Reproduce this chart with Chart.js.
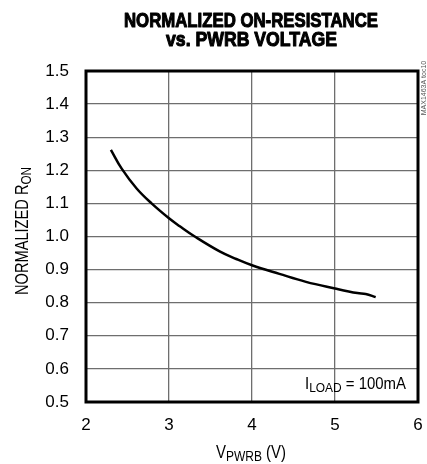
<!DOCTYPE html>
<html><head><meta charset="utf-8">
<script src="https://cdn.jsdelivr.net/npm/chart.js@4/dist/chart.umd.min.js"></script>
<style>html,body{margin:0;padding:0;background:#fff}#w{width:427px;height:464px}</style>
</head><body><div id="w"><canvas id="c"></canvas></div>
<script>
const xValues = [2.30, 2.43, 2.61, 2.79, 3.00, 3.13, 3.31, 3.61, 3.81, 4.00, 4.33, 4.65, 5.00, 5.27, 5.37, 5.49];
const yValues = [1.262, 1.205, 1.145, 1.100, 1.055, 1.031, 1.000, 0.955, 0.932, 0.913, 0.887, 0.863, 0.843, 0.829, 0.826, 0.817];
const xTicks = [2, 3, 4, 5, 6];
const yTicks = [0.5, 0.6, 0.7, 0.8, 0.9, 1.0, 1.1, 1.2, 1.3, 1.4, 1.5];
const titleLines = ["NORMALIZED ON-RESISTANCE", "vs. PWRB VOLTAGE"];
const FN = '"Liberation Sans Narrow", "Liberation Sans", Arial, sans-serif';

function fitText(ctx, txt, cx, baseline, targetW, font) {
  ctx.save();
  ctx.font = font;
  const w = ctx.measureText(txt).width;
  const s = targetW / w;
  ctx.translate(cx, baseline);
  ctx.scale(s, 1);
  ctx.textAlign = 'center';
  ctx.textBaseline = 'alphabetic';
  ctx.lineWidth = 1.1;
  ctx.strokeStyle = '#000';
  ctx.lineJoin = 'round';
  ctx.strokeText(txt, 0, 0);
  ctx.fillText(txt, 0, 0);
  ctx.restore();
}
// parts: [[text, isSub]]; draws with horizontal compression to targetW
function subText(ctx, parts, x, y, align, size, targetW) {
  ctx.save();
  ctx.textBaseline = 'alphabetic';
  ctx.textAlign = 'left';
  const subSize = size * 0.8;
  let total = 0;
  const widths = parts.map(p => { ctx.font = (p[1] ? subSize : size) + 'px ' + FN; const w = ctx.measureText(p[0]).width; total += w; return w; });
  const s = targetW ? targetW / total : 1;
  const drawnW = total * s;
  const startX = align === 'center' ? x - drawnW / 2 : (align === 'right' ? x - drawnW : x);
  ctx.translate(startX, y);
  ctx.scale(s, 1);
  let cx = 0;
  parts.forEach((p, i) => {
    ctx.font = (p[1] ? subSize : size) + 'px ' + FN;
    ctx.fillText(p[0], cx, p[1] ? size * 0.15 : 0);
    cx += widths[i];
  });
  ctx.restore();
}

const deco = {
  id: 'deco',
  afterDraw(chart) {
    const ctx = chart.ctx, a = chart.chartArea;
    ctx.save();
    ctx.fillStyle = '#000';
    fitText(ctx, titleLines[0], 251, 26.5, 254, 'bold 21px ' + FN);
    fitText(ctx, titleLines[1], 251.5, 45.7, 171, 'bold 21px ' + FN);
    // border
    ctx.strokeStyle = '#000';
    ctx.lineWidth = 3;
    ctx.strokeRect(a.left, a.top, a.right - a.left, a.bottom - a.top);
    // annotation
    subText(ctx, [['I', false], ['LOAD', true], [' = 100mA', false]], 406, 389, 'right', 17, 101);
    // x title
    subText(ctx, [['V', false], ['PWRB', true], [' (V)', false]], 251, 458, 'center', 18, 70);
    // y title
    ctx.save();
    ctx.translate(28, 231);
    ctx.rotate(-Math.PI / 2);
    subText(ctx, [['NORMALIZED R', false], ['ON', true]], 0, 0, 'center', 18, 128);
    ctx.restore();
    // side label
    ctx.save();
    ctx.translate(426, 88);
    ctx.rotate(-Math.PI / 2);
    ctx.fillStyle = '#555';
    ctx.font = '7px ' + FN;
    ctx.textAlign = 'center';
    ctx.fillText('MAX1463A toc10', 0, 0);
    ctx.restore();
    ctx.restore();
  }
};

new Chart(document.getElementById('c'), {
  type: 'scatter',
  data: {
    datasets: [{
      data: xValues.map((x, i) => ({ x, y: yValues[i] })),
      showLine: true,
      borderColor: '#000',
      borderWidth: 2.5,
      pointRadius: 0,
      tension: 0.4,
      fill: false
    }]
  },
  options: {
    responsive: true,
    maintainAspectRatio: false,
    animation: false,
    layout: { padding: { top: 71, right: 9, left: 0, bottom: 0 } },
    plugins: { legend: { display: false }, tooltip: { enabled: false } },
    scales: {
      x: {
        type: 'linear', min: 2, max: 6,
        afterBuildTicks: s => { s.ticks = xTicks.map(v => ({ value: v })); },
        afterFit: s => { s.height = 62; s.paddingLeft = 0; s.paddingRight = 0; },
        grid: { color: '#6e6e6e', lineWidth: 1.3, drawTicks: false },
        border: { display: false },
        ticks: { color: '#000', font: { family: FN, size: 17 }, padding: 13, maxRotation: 0, callback: v => String(v) }
      },
      y: {
        type: 'linear', min: 0.5, max: 1.5,
        afterBuildTicks: s => { s.ticks = yTicks.map(v => ({ value: v })); },
        afterFit: s => { s.width = 86; s.paddingTop = 0; s.paddingBottom = 0; },
        grid: { color: '#6e6e6e', lineWidth: 1.3, drawTicks: false },
        border: { display: false },
        ticks: { color: '#000', font: { family: FN, size: 17 }, padding: 17, callback: v => Number(v).toFixed(1) }
      }
    }
  },
  plugins: [deco]
});
</script></body></html>
